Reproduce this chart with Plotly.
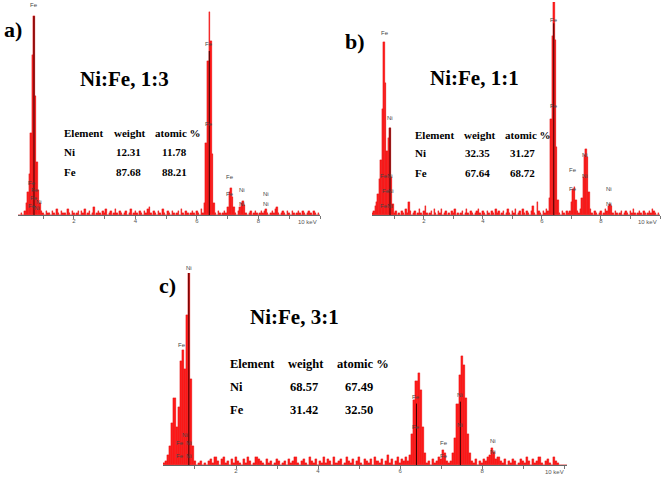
"""EDS spectra of Ni:Fe samples (three panels)."""
import plotly.graph_objects as go

# energy channels (keV), 0.05 keV apart, 0.20 ... 10.15
energy = [round(0.20 + 0.05 * i, 2) for i in range(200)]

# counts, scaled so that 100 = top of each panel; one row per keV
counts_a = [
    0, 0, 1, 0, 2, 6, 11, 20, 40, 78, 97, 58, 26, 12, 6, 2, 1, 0, 2, 1,
    1, 0, 2, 1, 0, 3, 1, 0, 2, 1, 1, 0, 3, 1, 0, 2, 1, 0, 1, 2,
    0, 2, 1, 3, 0, 1, 2, 0, 1, 4, 0, 1, 2, 1, 0, 2, 1, 3, 0, 1,
    2, 0, 1, 3, 1, 0, 2, 1, 0, 1, 2, 0, 1, 3, 0, 1, 2, 1, 0, 2,
    1, 0, 2, 1, 3, 4, 1, 0, 2, 1, 0, 2, 1, 0, 3, 1, 0, 2, 1, 0,
    2, 1, 0, 1, 2, 0, 3, 1, 0, 2, 1, 0, 1, 2, 1, 0, 2, 1, 0, 3,
    1, 6, 35, 75, 99, 85, 30, 6, 1, 0, 2, 1, 0, 1, 2, 1, 4, 11, 13, 9,
    4, 1, 0, 2, 4, 6, 7, 5, 1, 0, 1, 2, 0, 1, 2, 1, 0, 1, 2, 1,
    2, 3, 1, 0, 1, 2, 1, 3, 4, 1, 0, 1, 2, 1, 0, 2, 1, 0, 2, 1,
    0, 1, 2, 1, 0, 2, 1, 0, 1, 2, 1, 0, 2, 1, 0, 1, 0, 0, 0, 0,
]
counts_b = [
    0, 1, 2, 4, 6, 10, 17, 26, 50, 81, 62, 30, 36, 41, 18, 5, 1, 2, 0, 1,
    0, 2, 1, 0, 3, 1, 6, 2, 0, 1, 2, 0, 1, 3, 1, 0, 2, 4, 1, 0,
    1, 2, 0, 3, 1, 0, 2, 1, 3, 0, 1, 2, 0, 1, 0, 2, 1, 3, 0, 1,
    0, 1, 2, 0, 1, 3, 1, 0, 2, 1, 0, 1, 2, 3, 1, 0, 2, 1, 0, 2,
    1, 0, 2, 1, 0, 3, 1, 2, 0, 1, 2, 0, 1, 3, 1, 0, 2, 1, 3, 0,
    1, 2, 0, 3, 1, 0, 2, 1, 0, 2, 4, 1, 0, 6, 2, 1, 0, 2, 1, 3,
    2, 8, 45, 84, 100, 82, 32, 7, 1, 0, 2, 1, 0, 2, 1, 2, 6, 12, 13, 7,
    2, 1, 3, 8, 18, 28, 31, 27, 11, 3, 1, 0, 2, 1, 0, 1, 2, 0, 1, 3,
    2, 4, 5, 4, 1, 0, 2, 1, 0, 1, 2, 0, 1, 2, 1, 0, 2, 1, 3, 1,
    0, 1, 2, 1, 0, 2, 1, 0, 1, 2, 1, 3, 2, 1, 0, 1, 0, 0, 0, 0,
]
counts_c = [
    0, 1, 2, 5, 10, 22, 35, 20, 30, 54, 60, 50, 78, 100, 45, 10, 2, 0, 1, 2,
    0, 1, 0, 2, 3, 1, 4, 2, 0, 3, 4, 1, 2, 0, 3, 1, 4, 2, 1, 0,
    3, 1, 4, 2, 0, 1, 4, 3, 2, 1, 0, 3, 1, 2, 0, 1, 3, 2, 0, 1,
    2, 0, 3, 1, 2, 4, 1, 0, 2, 3, 1, 0, 4, 2, 1, 3, 0, 2, 1, 4,
    1, 3, 2, 0, 4, 1, 2, 3, 0, 1, 4, 2, 1, 3, 0, 2, 4, 1, 0, 3,
    2, 1, 3, 0, 4, 2, 1, 3, 0, 2, 5, 1, 3, 0, 2, 4, 1, 3, 2, 4,
    2, 5, 16, 34, 44, 48, 39, 20, 6, 1, 2, 0, 3, 1, 2, 4, 3, 8, 6, 2,
    1, 2, 6, 14, 32, 47, 57, 52, 35, 16, 6, 2, 1, 3, 0, 2, 1, 3, 2, 4,
    5, 9, 7, 3, 4, 2, 1, 3, 0, 2, 1, 3, 2, 0, 1, 3, 2, 1, 4, 2,
    0, 3, 1, 2, 4, 1, 0, 2, 3, 1, 0, 4, 2, 1, 0, 0, 0, 0, 0, 0,
]

# peak-marker lines (energy keV, height)
lines_a = ([0.70, 6.40], [97, 80])
lines_b = ([0.85, 6.40], [41, 90])
lines_c = ([0.85, 6.40, 7.47], [100, 32, 33])

# small element labels (energy keV, height, text)
labels_a = ([0.70, 6.40, 6.40, 7.06, 7.06, 7.47, 7.47, 8.26, 8.26, 0.62, 0.72, 0.70, 0.86, 0.62, 0.80],
            [100, 81, 42, 16, 8, 10, 3, 8, 3, 13, 10, 6, 4, 2, 1],
            ["Fe", "Fe", "Fe", "Fe", "Fe", "Ni", "Ni", "Ni", "Ni", "Fe", "Fe", "Fe", "Ni", "Fe", "Ni"])
labels_b = ([0.68, 0.86, 6.40, 6.40, 7.06, 7.06, 7.47, 7.47, 8.26, 8.26, 0.64, 0.86, 0.70, 0.88, 0.64, 0.86],
            [83, 43, 89, 49, 19, 10, 26, 16, 10, 3, 16, 16, 9, 9, 2, 2],
            ["Fe", "Ni", "Fe", "Fe", "Fe", "Fe", "Ni", "Ni", "Ni", "Ni", "Fe", "Ni", "Fe", "Ni", "Fe", "Ni"])
labels_c = ([0.85, 0.68, 0.75, 0.64, 0.85, 0.64, 0.85, 6.40, 6.40, 7.06, 7.06, 7.47, 7.47, 8.26, 8.26],
            [100, 60, 13, 9, 9, 2, 2, 33, 17, 9, 2, 34, 18, 10, 4],
            ["Ni", "Fe", "Ni", "Fe", "Ni", "Fe", "Ni", "Fe", "Fe", "Fe", "Fe", "Ni", "Ni", "Ni", "Ni"])

panel_tags = ["a)", "b)", "c)"]
ratios = ["Ni:Fe, 1:3", "Ni:Fe, 1:1", "Ni:Fe, 3:1"]
table_header = ["Element", "weight", "atomic %"]
elements = ["Ni", "Fe"]
weight = [[12.31, 87.68], [32.35, 67.64], [68.57, 31.42]]
atomic = [[11.78, 88.21], [31.27, 68.72], [67.49, 32.50]]

tick_vals = [2, 4, 6, 8]
tick_text = ["2", "4", "6", "8"]
minor_vals = [1, 2, 3, 4, 5, 6, 7, 8, 9, 10]

W, H = 661, 477
SERIF = "Liberation Serif, Times New Roman, serif"
SANS = "Liberation Sans, Arial, sans-serif"

# per panel: axis suffix, x domain px, x range, y domain px (bottom, top)
panels = [
    ("", (18, 320), (0.18, 10.0), (215, 10), counts_a, lines_a, labels_a),
    ("2", (372, 660), (0.24, 10.0), (215, 2), counts_b, lines_b, labels_b),
    ("3", (163, 567), (0.22, 10.07), (465, 273), counts_c, lines_c, labels_c),
]
# text positions per panel (px): tag, ratio, table columns, table rows
tag_pos = [(2, 30), (343, 42), (157, 285)]
ratio_pos = [(78, 79), (428, 78), (248, 317)]
col_x = [(62, 112, 153), (413, 462, 503), (228, 286, 335)]
val_x = [(62, 114, 160), (413, 463, 508), (228, 288, 343)]
row_y = [(133, 152, 172), (135, 153, 173), (364, 387, 410)]
table_size = [11, 11, 12.5]

fig = go.Figure()
annotations = []


def px(x, y):
    return x / W, 1 - y / H


for i, (sfx, xd, xr, yd, counts, mlines, labels) in enumerate(panels):
    xa, ya = "x" + sfx, "y" + sfx
    fig.add_trace(go.Bar(x=energy, y=counts, width=0.05, marker_color="#ff1a1a",
                         marker_line=dict(color="#d80000", width=0.3),
                         xaxis=xa, yaxis=ya, showlegend=False))
    for e, h in zip(*mlines):
        fig.add_trace(go.Scatter(x=[e, e], y=[0, h], mode="lines",
                                 line=dict(color="#3a0000", width=1),
                                 xaxis=xa, yaxis=ya, showlegend=False))
    for e, h, t in zip(*labels):
        annotations.append(dict(x=e, y=h, xref=xa, yref=ya, text=t, showarrow=False,
                                yanchor="bottom", font=dict(family=SANS, size=6, color="#444")))
    annotations.append(dict(x=xr[1], y=0, xref=xa, yref=ya, text="10 keV", showarrow=False,
                            xanchor="right", yanchor="top", xshift=-1, yshift=-2,
                            font=dict(family=SANS, size=6, color="#555")))
    xkey = "xaxis" + sfx
    ykey = "yaxis" + sfx
    fig.update_layout(**{
        xkey: dict(domain=[xd[0] / W, xd[1] / W], range=list(xr), anchor=ya,
                   showgrid=False, zeroline=False, showline=True, linecolor="#666", linewidth=1,
                   ticks="", tickvals=tick_vals, ticktext=tick_text,
                   minor=dict(ticks="outside", ticklen=3, tickcolor="#777", tickwidth=1,
                              tickvals=minor_vals, showgrid=False),
                   tickfont=dict(family=SANS, size=6, color="#555")),
        ykey: dict(domain=[1 - yd[0] / H, 1 - yd[1] / H], range=[0, 100], anchor=xa,
                   visible=False, fixedrange=True),
    })

    tx, ty = px(*tag_pos[i])
    annotations.append(dict(x=tx, y=ty, xref="paper", yref="paper", text="<b>%s</b>" % panel_tags[i],
                            showarrow=False, xanchor="left", yanchor="middle",
                            font=dict(family=SERIF, size=22, color="black")))
    rx, ry = px(*ratio_pos[i])
    annotations.append(dict(x=rx, y=ry, xref="paper", yref="paper", text="<b>%s</b>" % ratios[i],
                            showarrow=False, xanchor="left", yanchor="middle",
                            font=dict(family=SERIF, size=21, color="black")))
    rows = [table_header] + [[elements[k], "%.2f" % weight[i][k], "%.2f" % atomic[i][k]] for k in range(2)]
    for r, row in enumerate(rows):
        xs = col_x[i] if r == 0 else val_x[i]
        for c, txt in enumerate(row):
            ax_, ay_ = px(xs[c], row_y[i][r])
            annotations.append(dict(x=ax_, y=ay_, xref="paper", yref="paper", text="<b>%s</b>" % txt,
                                    showarrow=False, xanchor="left", yanchor="middle",
                                    font=dict(family=SERIF, size=table_size[i], color="black")))

fig.update_layout(width=W, height=H, margin=dict(l=0, r=0, t=0, b=0),
                  paper_bgcolor="white", plot_bgcolor="white", bargap=0,
                  annotations=annotations)
fig.write_html("out.html", config={"displayModeBar": False},
               post_script="document.body.style.margin='0';")
